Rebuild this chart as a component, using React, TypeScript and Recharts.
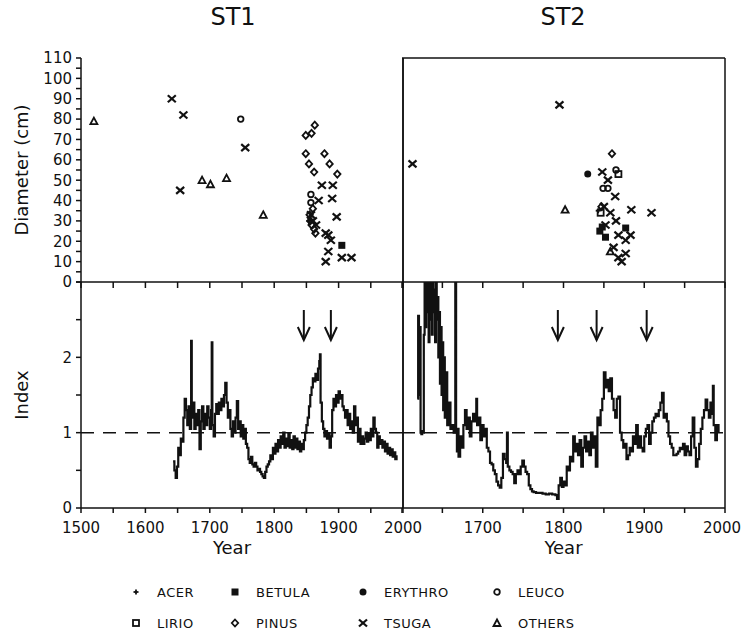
import {
  Line,
  LineChart,
  ReferenceDot,
  ReferenceLine,
  Scatter,
  ScatterChart,
  XAxis,
  YAxis,
} from "recharts";

const FONT = "DejaVu Sans, sans-serif";
const INK = "#111111";

// --- tree diameters (year of establishment, diameter cm) ---
const st1Acer: [number, number][] = [[1854, 30]];
const st1Betula: [number, number][] = [[1905, 18]];
const st1Erythro: [number, number][] = [];
const st1Leuco: [number, number][] = [[1748, 80], [1857, 43], [1857, 39]];
const st1Lirio: [number, number][] = [];
const st1Pinus: [number, number][] = [
  [1849, 72], [1858, 73], [1863, 77], [1849, 63], [1854, 58], [1862, 54],
  [1878, 63], [1886, 58], [1898, 53], [1860, 36], [1855, 33], [1856, 30],
  [1858, 28], [1862, 26], [1864, 24],
];
const st1Tsuga: [number, number][] = [
  [1641, 90], [1659, 82], [1654, 45], [1755, 66], [1874, 47.5], [1891, 47.5],
  [1869, 40], [1890, 41], [1897, 32], [1880, 24], [1884, 23], [1888, 20.5],
  [1884, 15], [1880, 10], [1905, 12], [1920, 12], [1860, 30], [1865, 28], [1857, 33],
];
const st1Others: [number, number][] = [[1520, 79], [1688, 50], [1701, 48], [1726, 51], [1783, 33]];

const st2Acer: [number, number][] = [[1843, 35]];
const st2Betula: [number, number][] = [[1845, 25], [1852, 22], [1877, 26.5], [1848, 27]];
const st2Erythro: [number, number][] = [[1830, 53]];
const st2Leuco: [number, number][] = [[1865, 55], [1849, 46], [1855, 46]];
const st2Lirio: [number, number][] = [[1868, 53], [1846, 34]];
const st2Pinus: [number, number][] = [[1860, 63], [1847, 37]];
const st2Tsuga: [number, number][] = [
  [1613, 58], [1795, 87], [1848, 54], [1855, 50], [1864, 42], [1884, 35.5],
  [1909, 34], [1858, 34], [1852, 28], [1865, 30], [1868, 23], [1877, 20.5],
  [1883, 23], [1862, 17], [1877, 14], [1868, 12], [1872, 10], [1850, 37],
];
const st2Others: [number, number][] = [[1802, 35.5], [1858, 15]];

// --- growth index series (year, index) ---
const st1Index: [number, number][] = [
  [1643, 0.62], [1645, 0.5], [1647, 0.4], [1649, 0.55], [1651, 0.8], [1653, 0.7],
  [1655, 0.92], [1657, 0.88], [1659, 1.2], [1661, 1.45], [1663, 1.3], [1665, 1.1],
  [1667, 1.35], [1669, 1.05], [1671, 2.22], [1672, 1.2], [1674, 1.4], [1676, 1.05],
  [1678, 1.25], [1680, 1.1], [1682, 1.3], [1684, 0.78], [1686, 1.15], [1688, 1.35],
  [1690, 1.05], [1692, 1.25], [1694, 1.1], [1696, 1.35], [1698, 1.2], [1700, 1.05],
  [1702, 1.3], [1703, 2.2], [1704, 1.1], [1706, 0.95], [1708, 1.25], [1710, 1.38],
  [1712, 1.25], [1714, 1.4], [1716, 1.3], [1718, 1.45], [1720, 1.35], [1722, 1.5],
  [1724, 1.66], [1726, 1.4], [1728, 1.2], [1730, 1.3], [1732, 1.05], [1734, 0.95],
  [1736, 1.15], [1738, 1.0], [1740, 1.2], [1742, 1.42], [1744, 1.05], [1746, 1.15],
  [1748, 0.95], [1750, 1.1], [1752, 0.92], [1754, 1.05], [1756, 0.85], [1758, 0.8],
  [1760, 0.65], [1762, 0.6], [1764, 0.68], [1766, 0.58], [1768, 0.55], [1770, 0.6],
  [1772, 0.55], [1774, 0.5], [1776, 0.52], [1778, 0.48], [1780, 0.45], [1782, 0.42],
  [1784, 0.4], [1786, 0.48], [1788, 0.55], [1790, 0.58], [1792, 0.62], [1794, 0.7],
  [1796, 0.65], [1798, 0.8], [1800, 0.72], [1802, 0.85], [1804, 0.75], [1806, 0.9],
  [1808, 0.8], [1810, 0.95], [1812, 0.85], [1814, 1.0], [1816, 0.8], [1818, 0.92],
  [1820, 0.82], [1822, 0.98], [1824, 0.8], [1826, 0.9], [1828, 0.78], [1830, 0.95],
  [1832, 0.8], [1834, 0.92], [1836, 0.78], [1838, 0.88], [1840, 0.75], [1842, 0.85],
  [1844, 0.78], [1846, 0.9], [1848, 1.0], [1850, 1.1], [1852, 1.2], [1854, 1.35],
  [1856, 1.5], [1858, 1.6], [1860, 1.72], [1862, 1.68], [1864, 1.78], [1866, 1.7],
  [1868, 1.85], [1870, 1.95], [1871, 2.04], [1872, 1.4], [1874, 1.15], [1876, 1.05],
  [1878, 0.95], [1880, 1.02], [1882, 0.92], [1884, 0.98], [1886, 0.8], [1888, 0.95],
  [1890, 1.3], [1892, 1.45], [1894, 1.35], [1896, 1.5], [1898, 1.4], [1900, 1.55],
  [1902, 1.45], [1904, 1.5], [1906, 1.35], [1908, 1.3], [1910, 1.2], [1912, 1.3],
  [1914, 1.1], [1916, 1.25], [1918, 1.05], [1920, 1.15], [1922, 1.0], [1924, 1.35],
  [1926, 1.1], [1928, 1.2], [1930, 0.88], [1932, 1.05], [1934, 0.85], [1936, 0.95],
  [1938, 0.85], [1940, 0.92], [1942, 1.0], [1944, 0.88], [1946, 0.98], [1948, 0.9],
  [1950, 1.05], [1952, 0.95], [1954, 1.2], [1956, 1.05], [1958, 1.0], [1960, 0.8],
  [1962, 0.95], [1964, 0.85], [1966, 0.9], [1968, 0.8], [1970, 0.88], [1972, 0.75],
  [1974, 0.85], [1976, 0.72], [1978, 0.8], [1980, 0.7], [1982, 0.78], [1984, 0.68],
  [1986, 0.74], [1988, 0.65], [1990, 0.7],
];

const st2Index: [number, number][] = [
  [1619, 1.45], [1620, 2.55], [1621, 1.5], [1622, 2.4], [1623, 1.0], [1624, 0.98],
  [1625, 1.02], [1626, 1.0], [1627, 2.3], [1628, 3.2], [1629, 2.4], [1630, 3.4],
  [1631, 2.6], [1632, 3.5], [1633, 2.2], [1634, 3.3], [1635, 2.5], [1636, 3.1],
  [1637, 2.3], [1638, 3.4], [1639, 2.6], [1640, 2.9], [1641, 2.2], [1642, 3.5],
  [1643, 2.5], [1644, 2.8], [1645, 2.0], [1646, 2.6], [1647, 1.65], [1648, 2.4],
  [1649, 1.5], [1650, 2.2], [1651, 1.3], [1652, 2.0], [1653, 1.2], [1654, 1.8],
  [1656, 1.1], [1658, 1.4], [1660, 1.05], [1662, 1.1], [1664, 1.0], [1666, 3.5],
  [1667, 1.0], [1668, 0.75], [1669, 1.05], [1670, 0.68], [1672, 0.95], [1674, 0.8],
  [1676, 1.1], [1678, 1.3], [1680, 1.05], [1682, 1.2], [1684, 0.95], [1686, 1.15],
  [1688, 1.25], [1690, 1.15], [1692, 1.45], [1693, 1.1], [1695, 1.2], [1697, 0.9],
  [1699, 1.1], [1701, 0.95], [1703, 1.05], [1705, 0.8], [1707, 0.75], [1709, 0.6],
  [1711, 0.58], [1713, 0.5], [1715, 0.45], [1717, 0.35], [1719, 0.3], [1721, 0.27],
  [1723, 0.4], [1725, 0.72], [1727, 0.65], [1729, 0.6], [1730, 1.0], [1731, 0.55],
  [1733, 0.5], [1735, 0.48], [1737, 0.45], [1739, 0.33], [1741, 0.45], [1743, 0.5],
  [1745, 0.45], [1747, 0.55], [1749, 0.63], [1751, 0.55], [1753, 0.48], [1755, 0.45],
  [1757, 0.3], [1759, 0.25], [1761, 0.22], [1763, 0.21], [1766, 0.2], [1770, 0.2],
  [1774, 0.19], [1778, 0.18], [1782, 0.19], [1786, 0.18], [1790, 0.17], [1792, 0.12],
  [1794, 0.3], [1796, 0.4], [1798, 0.28], [1800, 0.35], [1802, 0.3], [1804, 0.55],
  [1806, 0.5], [1808, 0.68], [1810, 0.62], [1812, 0.95], [1814, 0.75], [1816, 0.85],
  [1818, 0.7], [1820, 0.9], [1822, 0.55], [1824, 0.8], [1826, 0.95], [1828, 0.75],
  [1830, 0.88], [1832, 0.7], [1834, 1.0], [1836, 0.8], [1838, 0.95], [1840, 0.55],
  [1842, 1.2], [1844, 1.1], [1846, 1.3], [1848, 1.45], [1850, 1.8], [1852, 1.6],
  [1854, 1.7], [1856, 1.55], [1858, 1.72], [1860, 1.45], [1862, 1.3], [1864, 1.2],
  [1866, 1.45], [1868, 1.48], [1870, 1.0], [1872, 0.9], [1874, 0.8], [1876, 0.85],
  [1878, 0.65], [1880, 0.7], [1882, 0.8], [1884, 0.75], [1886, 0.95], [1888, 0.85],
  [1890, 1.1], [1892, 0.8], [1894, 0.95], [1896, 0.8], [1898, 0.75], [1900, 0.95],
  [1902, 1.05], [1904, 1.1], [1906, 0.85], [1908, 1.0], [1910, 1.15], [1912, 1.2],
  [1914, 1.25], [1916, 1.22], [1918, 1.3], [1920, 1.4], [1922, 1.53], [1924, 1.2],
  [1926, 1.25], [1928, 1.15], [1930, 0.95], [1932, 0.85], [1934, 0.8], [1936, 0.7],
  [1938, 0.7], [1940, 0.72], [1942, 0.75], [1944, 0.8], [1946, 0.78], [1948, 0.85],
  [1950, 0.7], [1952, 0.82], [1954, 0.75], [1956, 0.7], [1958, 0.95], [1960, 1.2],
  [1962, 0.8], [1964, 0.55], [1966, 0.65], [1968, 0.85], [1970, 1.05], [1972, 1.2],
  [1974, 1.3], [1976, 1.44], [1978, 1.3], [1980, 1.2], [1982, 1.4], [1984, 1.25],
  [1985, 1.62], [1986, 1.1], [1988, 0.9], [1990, 1.1], [1992, 1.0],
];

const st1Arrows = [1846, 1888];
const st2Arrows = [1793, 1841, 1903];
const arrowTip = 2.23;

const st1Ticks = [1500, 1550, 1600, 1650, 1700, 1750, 1800, 1850, 1900, 1950, 2000];
const st2Ticks = [1600, 1650, 1700, 1750, 1800, 1850, 1900, 1950, 2000];
const diaTicks = [0, 5, 10, 15, 20, 25, 30, 35, 40, 45, 50, 55, 60, 65, 70, 75, 80, 85, 90, 95, 100, 105, 110];
const indexTicks = [0, 0.5, 1, 1.5, 2, 2.5, 3];

const species = ["ACER", "BETULA", "ERYTHRO", "LEUCO", "LIRIO", "PINUS", "TSUGA", "OTHERS"];

const toPts = (rows: [number, number][]) => rows.map(([year, dia]) => ({ year, dia }));
const toSeries = (rows: [number, number][]) => rows.map(([year, v]) => ({ year, v }));

function Mark({ kind, cx, cy }: { kind: string; cx: number; cy: number }) {
  const s = { stroke: INK, strokeWidth: 1.8, fill: "none" };
  switch (kind) {
    case "ACER":
      return (
        <g {...s}>
          <line x1={cx - 2.5} y1={cy} x2={cx + 2.5} y2={cy} />
          <line x1={cx} y1={cy - 2.5} x2={cx} y2={cy + 2.5} />
        </g>
      );
    case "BETULA":
      return <rect x={cx - 3.5} y={cy - 3.5} width={7} height={7} fill={INK} />;
    case "ERYTHRO":
      return <circle cx={cx} cy={cy} r={3.5} fill={INK} />;
    case "LEUCO":
      return <circle cx={cx} cy={cy} r={2.8} {...s} />;
    case "LIRIO":
      return <rect x={cx - 3} y={cy - 3} width={6} height={6} {...s} />;
    case "PINUS":
      return <polygon points={`${cx},${cy - 3.5} ${cx + 3.2},${cy} ${cx},${cy + 3.5} ${cx - 3.2},${cy}`} {...s} />;
    case "TSUGA":
      return (
        <g stroke={INK} strokeWidth={2.2}>
          <line x1={cx - 4} y1={cy - 3.5} x2={cx + 4} y2={cy + 3.5} />
          <line x1={cx - 4} y1={cy + 3.5} x2={cx + 4} y2={cy - 3.5} />
        </g>
      );
    default:
      return <polygon points={`${cx},${cy - 3.5} ${cx + 3.5},${cy + 3} ${cx - 3.5},${cy + 3}`} {...s} />;
  }
}

function Arrow(props: any) {
  const { cx, cy } = props;
  return (
    <g stroke={INK} strokeWidth={2} fill="none">
      <line x1={cx} y1={cy - 30} x2={cx} y2={cy} />
      <polyline points={`${cx - 6},${cy - 13} ${cx},${cy} ${cx + 6},${cy - 13}`} />
    </g>
  );
}

const tickStyle = { fontSize: 15, fill: INK, fontFamily: FONT };
const axisStroke = { stroke: INK, strokeWidth: 1.5 };

function DiameterPanel({
  left,
  width,
  domain,
  ticks,
  groups,
  first,
}: {
  left: number;
  width: number;
  domain: [number, number];
  ticks: number[];
  groups: [string, [number, number][]][];
  first: boolean;
}) {
  return (
    <div style={{ position: "absolute", left, top: 0 }}>
      <ScatterChart
        width={width}
        height={290}
        margin={{ top: 58, right: 30, bottom: 0, left: 8 }}
        style={{ overflow: "visible" }}
      >
        <XAxis
          type="number"
          dataKey="year"
          domain={domain}
          ticks={ticks}
          allowDataOverflow
          height={8}
          tickSize={6}
          tickFormatter={() => ""}
          axisLine={axisStroke}
          tickLine={axisStroke}
        />
        <YAxis
          yAxisId="l"
          type="number"
          dataKey="dia"
          domain={[0, 110]}
          ticks={diaTicks}
          hide={!first}
          width={73}
          tickSize={5}
          tickMargin={4}
          interval={0}
          tick={tickStyle}
          tickFormatter={(v: number) => (v % 10 === 0 ? String(v) : "")}
          axisLine={axisStroke}
          tickLine={axisStroke}
          label={{
            value: "Diameter (cm)",
            angle: -90,
            position: "insideLeft",
            offset: 14,
            style: { textAnchor: "middle", fontSize: 18, fill: INK, fontFamily: FONT },
          }}
        />
        {first && (
          <YAxis
            yAxisId="r"
            orientation="right"
            domain={[0, 110]}
            ticks={diaTicks}
            interval={0}
            mirror
            width={1}
            tickSize={4}
            tickFormatter={() => ""}
            axisLine={axisStroke}
            tickLine={axisStroke}
          />
        )}
        {!first && <ReferenceLine yAxisId="l" y={110} stroke={INK} strokeWidth={1.5} ifOverflow="visible" />}
        <ReferenceLine yAxisId="l" x={domain[1]} stroke={INK} strokeWidth={1.5} ifOverflow="visible" />
        {groups.map(([kind, rows]) => (
          <Scatter
            key={kind}
            yAxisId="l"
            data={toPts(rows)}
            isAnimationActive={false}
            shape={(p: any) => <Mark kind={kind} cx={p.cx} cy={p.cy} />}
          />
        ))}
      </ScatterChart>
    </div>
  );
}

function IndexPanel({
  left,
  width,
  domain,
  ticks,
  series,
  arrows,
  first,
  yearDx,
}: {
  left: number;
  width: number;
  domain: [number, number];
  ticks: number[];
  series: [number, number][];
  arrows: number[];
  first: boolean;
  yearDx: number;
}) {
  const YearTick = (p: any) => {
    const v = p.payload.value as number;
    if (v % 100 !== 0 || (!first && v === 1600)) return <g />;
    const shift = !first && v === 2000 ? -3 : 0;
    return (
      <text x={p.x + shift} y={p.y} dy="0.71em" textAnchor="middle" {...tickStyle}>
        {v}
      </text>
    );
  };
  return (
    <div style={{ position: "absolute", left, top: 0 }}>
      <LineChart
        width={width}
        height={560}
        data={toSeries(series)}
        margin={{ top: 282, right: 30, bottom: 0, left: 8 }}
        style={{ overflow: "visible" }}
      >
        <XAxis
          type="number"
          dataKey="year"
          domain={domain}
          ticks={ticks}
          interval={0}
          allowDataOverflow
          height={52}
          tickSize={5}
          tickMargin={9}
          tick={YearTick}
          axisLine={axisStroke}
          tickLine={axisStroke}
          label={{
            value: "Year",
            position: "insideBottom",
            offset: 6,
            dx: yearDx,
            style: { fontSize: 18, fill: INK, fontFamily: FONT },
          }}
        />
        <YAxis
          yAxisId="l"
          domain={[0, 3]}
          ticks={indexTicks}
          interval={0}
          allowDataOverflow
          hide={!first}
          width={73}
          tickSize={5}
          tickMargin={4}
          tick={tickStyle}
          tickFormatter={(v: number) => (v === 0 || v === 1 || v === 2 ? String(v) : "")}
          axisLine={axisStroke}
          tickLine={axisStroke}
          label={{
            value: "Index",
            angle: -90,
            position: "insideLeft",
            offset: 14,
            style: { textAnchor: "middle", fontSize: 18, fill: INK, fontFamily: FONT },
          }}
        />
        {first && (
          <YAxis
            yAxisId="r"
            orientation="right"
            domain={[0, 3]}
            ticks={indexTicks}
            interval={0}
            mirror
            width={1}
            tickSize={4}
            tickFormatter={() => ""}
            axisLine={axisStroke}
            tickLine={axisStroke}
          />
        )}
        <ReferenceLine yAxisId="l" x={domain[1]} stroke={INK} strokeWidth={1.5} ifOverflow="visible" />
        <ReferenceLine yAxisId="l" y={1} stroke={INK} strokeWidth={1.5} strokeDasharray="13 9" />
        <Line
          yAxisId="l"
          type="stepAfter"
          dataKey="v"
          stroke={INK}
          strokeWidth={2.2}
          dot={false}
          isAnimationActive={false}
        />
        {arrows.map((yr) => (
          <ReferenceDot key={yr} yAxisId="l" x={yr} y={arrowTip} r={0} shape={Arrow} />
        ))}
      </LineChart>
    </div>
  );
}

function Legend() {
  const colX = [130, 229, 357, 491];
  const rowY = [592, 623];
  return (
    <>
      {species.map((kind, i) => {
        const x = colX[i % 4];
        const y = rowY[Math.floor(i / 4)];
        return (
          <div
            key={kind}
            style={{
              position: "absolute",
              left: x,
              top: y - 9,
              height: 18,
              display: "flex",
              alignItems: "center",
              fontFamily: FONT,
              fontSize: 13,
              color: INK,
              letterSpacing: 0.5,
            }}
          >
            <svg width={12} height={12} style={{ marginRight: 15 }}>
              <Mark kind={kind} cx={6} cy={6} />
            </svg>
            {kind}
          </div>
        );
      })}
    </>
  );
}

export default function App() {
  const st1Groups: [string, [number, number][]][] = [
    ["ACER", st1Acer], ["BETULA", st1Betula], ["ERYTHRO", st1Erythro], ["LEUCO", st1Leuco],
    ["LIRIO", st1Lirio], ["PINUS", st1Pinus], ["TSUGA", st1Tsuga], ["OTHERS", st1Others],
  ];
  const st2Groups: [string, [number, number][]][] = [
    ["ACER", st2Acer], ["BETULA", st2Betula], ["ERYTHRO", st2Erythro], ["LEUCO", st2Leuco],
    ["LIRIO", st2Lirio], ["PINUS", st2Pinus], ["TSUGA", st2Tsuga], ["OTHERS", st2Others],
  ];
  return (
    <div
      style={{
        position: "absolute",
        left: 0,
        top: 0,
        width: 741,
        height: 638,
        background: "#fff",
        fontFamily: FONT,
        color: INK,
        overflow: "hidden",
      }}
    >
      <div style={{ position: "absolute", left: 183, top: 3, width: 100, textAlign: "center", fontSize: 24 }}>ST1</div>
      <div style={{ position: "absolute", left: 513, top: 3, width: 100, textAlign: "center", fontSize: 24 }}>ST2</div>
      <DiameterPanel left={0} width={433} domain={[1500, 2000]} ticks={st1Ticks} groups={st1Groups} first />
      <DiameterPanel left={394} width={361} domain={[1600, 2000]} ticks={st2Ticks} groups={st2Groups} first={false} />
      <IndexPanel left={0} width={433} domain={[1500, 2000]} ticks={st1Ticks} series={st1Index} arrows={st1Arrows} first yearDx={-10} />
      <IndexPanel left={394} width={361} domain={[1600, 2000]} ticks={st2Ticks} series={st2Index} arrows={st2Arrows} first={false} yearDx={0} />
      <Legend />
    </div>
  );
}
